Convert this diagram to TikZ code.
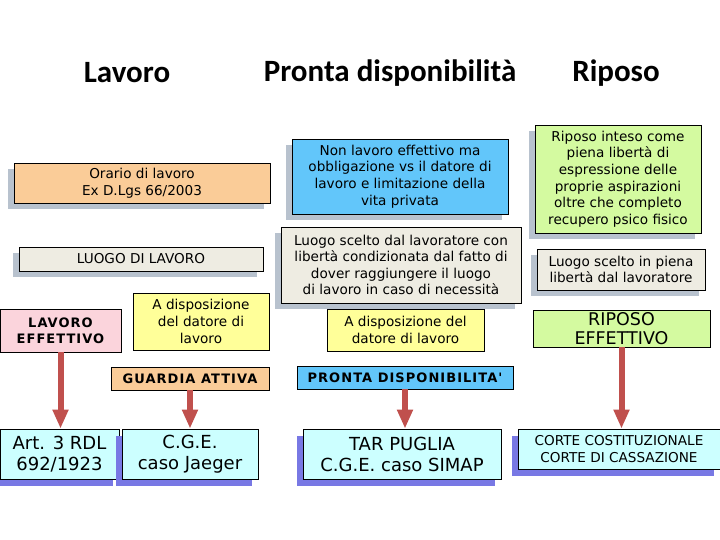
\documentclass[tikz,border=0pt]{standalone}
\usepackage{fontspec}
\setmainfont{DejaVu Sans}
\newfontfamily\hdr{Carlito}
\newfontfamily\verd{DejaVu Sans}
\newfontfamily\verdb{DejaVu Sans}[LetterSpace=8]
\usetikzlibrary{shadows,arrows.meta}
\definecolor{corange}{RGB}{250,204,152}
\definecolor{cbeige}{RGB}{238,236,226}
\definecolor{cpink}{RGB}{251,212,220}
\definecolor{cyellow}{RGB}{255,255,153}
\definecolor{cblue}{RGB}{98,198,250}
\definecolor{ccyan}{RGB}{204,255,255}
\definecolor{cgreen}{RGB}{212,250,160}
\definecolor{shgrey}{RGB}{184,194,206}
\definecolor{shpurple}{RGB}{120,120,228}
\definecolor{arrowred}{RGB}{192,80,77}
\tikzset{
  box/.style={draw=black, line width=0.8pt, inner sep=1pt, align=center, text=black,
    font=\fontsize{13.6}{16.6}\selectfont},
  gshadow/.style={general shadow={fill=shgrey, shadow xshift=-6pt, shadow yshift=-6pt}},
  pshadow/.style={general shadow={fill=shpurple, shadow xshift=-6pt, shadow yshift=-7pt}},
  bigtxt/.style={font=\verd\fontsize{18}{21}\selectfont},
  boldtxt/.style={font=\verdb\bfseries\fontsize{13}{16}\selectfont},
  hdrtxt/.style={font=\hdr\bfseries\fontsize{31}{36}\selectfont, inner sep=0pt},
  arr/.style={draw=arrowred, line width=6pt, -{Triangle[width=15pt,length=19pt]}},
}
\begin{document}
\begin{tikzpicture}[x=1pt,y=-1pt]
\useasboundingbox[fill=white] (0,0) rectangle (720,540);
% headers
\node[hdrtxt] (h1) at (127,73) {Lavoro};
\node[hdrtxt] (h2) at (390,73) {Pronta disponibilità};
\node[hdrtxt] (h3) at (616,73) {Riposo};
% Lavoro column
\node[box, gshadow, fill=corange, minimum width=256, minimum height=40] (orario) at (142,183)
  {Orario di lavoro\\Ex D.Lgs 66/2003};
\node[box, gshadow, fill=cbeige, minimum width=244, minimum height=24] (luogo) at (141,259)
  {LUOGO DI LAVORO};
\node[box, fill=cpink, boldtxt, minimum width=121, minimum height=43] (laveff) at (60.5,330.5)
  {LAVORO\\EFFETTIVO};
\node[box, fill=cyellow, minimum width=136, minimum height=57] (disp1) at (201,321.5)
  {A disposizione\\del datore di\\lavoro};
\node[box, fill=corange, boldtxt, minimum width=158, minimum height=23] (guardia) at (190,378.5)
  {GUARDIA ATTIVA};
\node[box, pshadow, fill=ccyan, bigtxt, minimum width=119, minimum height=50] (art) at (59.5,454)
  {Art. 3 RDL\\692/1923};
\node[box, pshadow, fill=ccyan, bigtxt, minimum width=136, minimum height=50] (cge) at (190,454)
  {C.G.E.\\caso Jaeger};
% Pronta disponibilita column
\node[box, gshadow, fill=cblue, minimum width=216, minimum height=75] (nonlav) at (400,176.5)
  {Non lavoro effettivo ma\\obbligazione vs il datore di\\lavoro e limitazione della\\vita privata};
\node[box, gshadow, fill=cbeige, minimum width=240, minimum height=76] (luogo2) at (401,265)
  {Luogo scelto dal lavoratore con\\libertà condizionata dal fatto di\\dover raggiungere il luogo\\di lavoro in caso di necessità};
\node[box, fill=cyellow, minimum width=157, minimum height=42] (disp2) at (405.5,330)
  {A disposizione del\\datore di lavoro};
\node[box, fill=cblue, boldtxt, minimum width=216, minimum height=23] (pronta) at (405,377.5)
  {PRONTA DISPONIBILITA'};
\node[box, pshadow, fill=ccyan, bigtxt, minimum width=198, minimum height=50] (tar) at (402,454)
  {TAR PUGLIA\\C.G.E. caso SIMAP};
% Riposo column
\node[box, gshadow, fill=cgreen, minimum width=166, minimum height=108] (rip1) at (618,179)
  {Riposo inteso come\\piena libertà di\\espressione delle\\proprie aspirazioni\\oltre che completo\\recupero psico fisico};
\node[box, gshadow, fill=cbeige, minimum width=168, minimum height=41] (luogo3) at (621,269.5)
  {Luogo scelto in piena\\libertà dal lavoratore};
\node[box, fill=cgreen, font=\fontsize{17.5}{18.5}\selectfont, minimum width=177, minimum height=37] (ripeff) at (621.5,328.5)
  {RIPOSO\\EFFETTIVO};
\node[box, pshadow, fill=ccyan, minimum width=202, minimum height=40] (corte) at (619,449)
  {CORTE COSTITUZIONALE\\CORTE DI CASSAZIONE};
% arrows
\draw[arr] (laveff.south) -- (laveff.south |- art.north);
\draw[arr] (guardia.south) -- (guardia.south |- cge.north);
\draw[arr] (pronta.south) -- (pronta.south |- tar.north);
\draw[arr] (ripeff.south) -- (ripeff.south |- corte.north);
\end{tikzpicture}
\end{document}
